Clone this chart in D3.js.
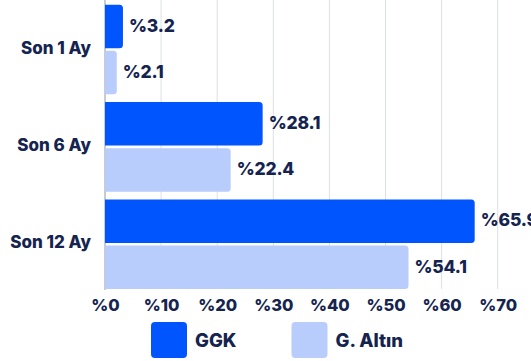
<!DOCTYPE html>
<html>
<head>
<meta charset="utf-8">
<script src="https://cdn.jsdelivr.net/npm/d3@7"></script>
<style>
  html, body { margin: 0; padding: 0; background: #ffffff; }
  svg { display: block; font-family: Inter, "Noto Sans", sans-serif; font-weight: 800; }
</style>
</head>
<body>
<svg id="chart" width="531" height="361"></svg>
<script>
// Getiri karşılaştırması: GGK ve G. Altın
const categories = ["Son 1 Ay", "Son 6 Ay", "Son 12 Ay"];
const seriesNames = ["GGK", "G. Altın"];
const ggkValues = [3.2, 28.1, 65.9];
const altinValues = [2.1, 22.4, 54.1];
const tickValues = [0, 10, 20, 30, 40, 50, 60, 70];
const colors = ["#0055ff", "#b8cdfc"];
const textColor = "#15244f";

const svg = d3.select("#chart");

const x = d3.scaleLinear().domain([0, 70]).range([105, 497.7]);
const y0 = d3.scaleBand().domain(categories).range([4.7, 289]).paddingInner(0.08).paddingOuter(0);
const y1 = d3.scaleBand().domain(seriesNames).range([0, y0.bandwidth()]).paddingInner(0.058);

// grid lines
svg.append("g")
  .selectAll("line")
  .data(tickValues.slice(1))
  .join("line")
  .attr("x1", d => x(d)).attr("x2", d => x(d))
  .attr("y1", 0).attr("y2", 289)
  .attr("stroke", "#dcdfe6").attr("stroke-width", 1);

// baseline axis
svg.append("line")
  .attr("x1", x(0)).attr("x2", x(0))
  .attr("y1", 0).attr("y2", 290)
  .attr("stroke", "#a3a8b2").attr("stroke-width", 1.2);

// bar path with rounded right corners
function barPath(x0, x1, yt, h, r) {
  const w = x1 - x0;
  r = Math.min(r, w / 2, h / 2);
  return `M${x0},${yt}H${x1 - r}Q${x1},${yt} ${x1},${yt + r}V${yt + h - r}Q${x1},${yt + h} ${x1 - r},${yt + h}H${x0}Z`;
}

const rows = categories.map((c, i) => ({
  category: c,
  values: [
    { name: seriesNames[0], value: ggkValues[i], color: colors[0] },
    { name: seriesNames[1], value: altinValues[i], color: colors[1] }
  ]
}));

const groups = svg.append("g").selectAll("g")
  .data(rows).join("g")
  .attr("transform", d => `translate(0,${y0(d.category)})`);

groups.selectAll("path")
  .data(d => d.values).join("path")
  .attr("d", d => barPath(x(0), x(d.value), y1(d.name), y1.bandwidth(), 3.5))
  .attr("fill", d => d.color);

groups.selectAll("text.val")
  .data(d => d.values).join("text")
  .attr("class", "val")
  .attr("x", d => x(d.value) + 6)
  .attr("y", d => y1(d.name) + y1.bandwidth() / 2 - 1)
  .attr("dy", "0.36em")
  .attr("fill", textColor)
  .attr("font-size", 17.5)
  .attr("letter-spacing", -0.2)
  .text(d => "%" + d.value);

// category labels
svg.append("g").selectAll("text")
  .data(categories).join("text")
  .attr("x", 91)
  .attr("y", d => y0(d) + y0.bandwidth() / 2 - 2)
  .attr("dy", "0.36em")
  .attr("text-anchor", "end")
  .attr("fill", textColor)
  .attr("font-size", 17)
  .text(d => d);

// x tick labels
const xAxis = d3.axisBottom(x).tickValues(tickValues).tickFormat(d => "%" + d).tickSize(0).tickPadding(0);
const gx = svg.append("g").attr("transform", "translate(0,299)").call(xAxis);
gx.select(".domain").remove();
gx.selectAll("text")
  .attr("fill", textColor)
  .attr("font-size", 16.5)
  .attr("font-family", "Inter, sans-serif")
  .attr("font-weight", 800)
  .attr("dy", "0.71em");

// legend
const legendX = [151, 291.5];
const legend = svg.append("g").selectAll("g")
  .data(seriesNames).join("g")
  .attr("transform", (d, i) => `translate(${legendX[i]},322)`);
legend.append("rect")
  .attr("width", 36).attr("height", 36).attr("rx", 4)
  .attr("fill", (d, i) => colors[i]);
legend.append("text")
  .attr("x", 44).attr("y", 18).attr("dy", "0.36em")
  .attr("fill", textColor)
  .attr("font-size", 18.5)
  .text(d => d);
</script>
</body>
</html>
